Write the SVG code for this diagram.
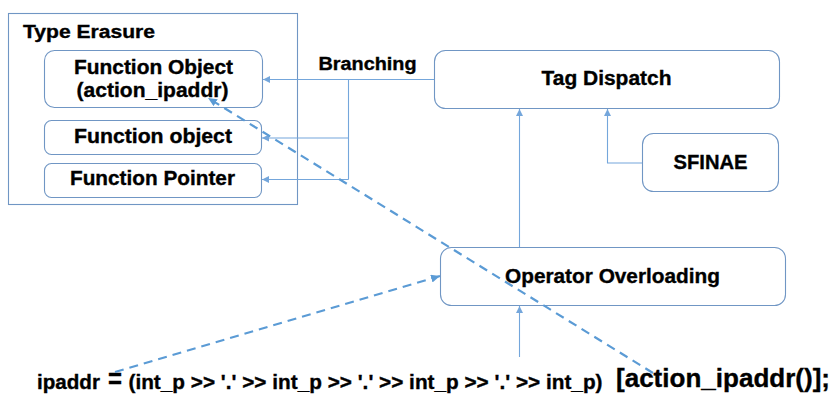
<svg xmlns="http://www.w3.org/2000/svg" width="834" height="394" viewBox="0 0 834 394">
<style>
.box{fill:#fff;stroke:#7096C4;stroke-width:1.1}
.t{font-family:"Liberation Sans",Arial,sans-serif;font-weight:bold;fill:#000;stroke:#000;stroke-width:0.35}
.c{fill:none;stroke:#74A6DB;stroke-width:1.1}
.d{fill:none;stroke:#5B9BD5;stroke-width:2.2;stroke-dasharray:9 6}
</style>
<defs>
<marker id="a" markerUnits="userSpaceOnUse" markerWidth="8" markerHeight="8" refX="7" refY="3.5" orient="auto"><path d="M0,0 L7,3.5 L0,7 Z" fill="#74A6DB"/></marker>
<marker id="ad" markerUnits="userSpaceOnUse" markerWidth="10" markerHeight="10" refX="9" refY="4" orient="auto"><path d="M0,0 L9,4 L0,8 Z" fill="#5B9BD5"/></marker>
</defs>
<rect width="834" height="394" fill="#fff"/>
<g id="type-erasure">
<rect x="8.5" y="13.5" width="289" height="191" fill="#fff" stroke="#7096C4" stroke-width="1.1"/>
<text class="t" x="23" y="37.5" font-size="18" textLength="132" lengthAdjust="spacingAndGlyphs">Type Erasure</text>
</g>
<g id="function-object-action">
<rect class="box" x="44.5" y="50.5" width="218" height="57" rx="10"/>
<text class="t" x="74" y="73.5" font-size="20" textLength="159" lengthAdjust="spacingAndGlyphs">Function Object</text>
<text class="t" x="76.5" y="97" font-size="20" textLength="152" lengthAdjust="spacingAndGlyphs">(action_ipaddr)</text>
</g>
<g id="function-object">
<rect class="box" x="44.5" y="120.5" width="217" height="34" rx="7"/>
<text class="t" x="74" y="142.5" font-size="20" textLength="158" lengthAdjust="spacingAndGlyphs">Function object</text>
</g>
<g id="function-pointer">
<rect class="box" x="44.5" y="163.5" width="217" height="34" rx="7"/>
<text class="t" x="70" y="184.5" font-size="20" textLength="165" lengthAdjust="spacingAndGlyphs">Function Pointer</text>
</g>
<g id="tag-dispatch">
<rect class="box" x="434.5" y="50.5" width="345" height="58" rx="11"/>
<text class="t" x="541.5" y="84.5" font-size="20" textLength="130" lengthAdjust="spacingAndGlyphs">Tag Dispatch</text>
</g>
<g id="sfinae">
<rect class="box" x="642.5" y="133.5" width="136" height="58" rx="11"/>
<text class="t" x="673.5" y="168.5" font-size="20" textLength="74" lengthAdjust="spacingAndGlyphs">SFINAE</text>
</g>
<g id="operator-overloading">
<rect class="box" x="440.5" y="247.5" width="345" height="58" rx="11"/>
<text class="t" x="505" y="282.5" font-size="20" textLength="215" lengthAdjust="spacingAndGlyphs">Operator Overloading</text>
</g>
<g id="branching-label">
<text class="t" x="318.5" y="69.5" font-size="18" textLength="98" lengthAdjust="spacingAndGlyphs">Branching</text>
</g>
<g id="expression">
<text class="t" y="389">
<tspan x="37" font-size="20" textLength="63" lengthAdjust="spacingAndGlyphs">ipaddr</tspan>
<tspan x="108" y="388" font-size="28" textLength="14" lengthAdjust="spacingAndGlyphs">=</tspan>
<tspan x="128.5" y="389" font-size="20" textLength="474" lengthAdjust="spacingAndGlyphs">(int_p &gt;&gt; '.' &gt;&gt; int_p &gt;&gt; '.' &gt;&gt; int_p &gt;&gt; '.' &gt;&gt; int_p)</tspan>
<tspan x="616" y="387" font-size="25.5" textLength="214" lengthAdjust="spacingAndGlyphs">[action_ipaddr()];</tspan>
</text>
</g>
<g id="connectors">
<path class="c" d="M434,79.5 H263" marker-end="url(#a)"/>
<path class="c" d="M348.5,79.5 V179.5"/>
<path class="c" d="M348.5,138 H262" marker-end="url(#a)"/>
<path class="c" d="M348.5,179.5 H262" marker-end="url(#a)"/>
<path class="c" d="M642,163 H607.5 V109" marker-end="url(#a)"/>
<path class="c" d="M519.5,247 V109" marker-end="url(#a)"/>
<path class="c" d="M519.5,357 V306" marker-end="url(#a)"/>
<path class="d" d="M115,372 L440,276" marker-end="url(#ad)"/>
<path class="d" d="M653,373 L208,98" marker-end="url(#ad)"/>
</g>
</svg>
